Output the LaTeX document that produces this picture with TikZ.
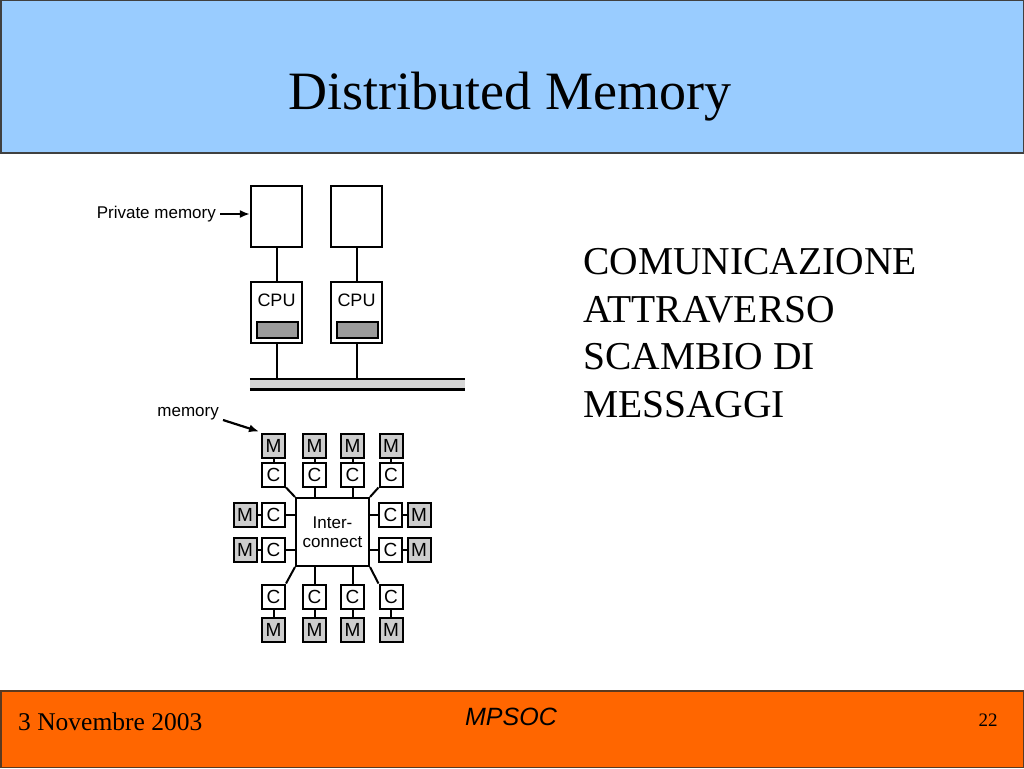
\documentclass[tikz,border=0pt]{standalone}
\usepackage{fontspec}
\setmainfont{Liberation Serif}
\setsansfont{Liberation Sans}
\usetikzlibrary{arrows.meta}
\definecolor{titleblue}{HTML}{99CCFF}
\definecolor{footorange}{HTML}{FF6600}
\definecolor{footborder}{HTML}{5A3A20}
\definecolor{boxgray}{HTML}{CDCDCD}
\definecolor{reggray}{HTML}{9A9A9A}
\definecolor{busgray}{HTML}{D6D6D6}
\begin{document}
\begin{tikzpicture}[x=1pt,y=-1pt,
  bigbox/.style={draw, line width=2.2pt, rectangle, inner sep=0pt, minimum width=51pt, minimum height=61pt},
  regbox/.style={draw, line width=1.8pt, rectangle, inner sep=0pt, fill=reggray, minimum width=41pt, minimum height=16pt},
  cbox/.style={draw, line width=2pt, rectangle, inner sep=0pt, minimum width=23pt, minimum height=24pt, fill=white, font=\sffamily\fontsize{19}{19}\selectfont},
  mbox/.style={cbox, fill=boxgray},
  link/.style={line width=2pt},
  arr/.style={line width=2.2pt, -{Latex[length=10pt,width=8pt]}},
  lbl/.style={font=\sffamily\fontsize{17}{17}\selectfont, inner sep=0pt}
]
\useasboundingbox (0,0) rectangle (1024,768);
% title bar
\fill[titleblue] (0,0) rectangle (1024,153);
\draw[line width=1.5pt, black!75] (0.75,0.75) rectangle (1023.25,153);
\node[anchor=base, font=\fontsize{54}{54}\selectfont] (title) at (510,109) {Distributed Memory};
% footer
\fill[footorange] (0,691) rectangle (1024,768);
\draw[line width=1.5pt, footborder] (0.75,691) rectangle (1023.25,767.25);
\node[anchor=base west, inner sep=0pt, font=\fontsize{25.5}{25.5}\selectfont] (date) at (18,730) {3 Novembre 2003};
\node[anchor=base, inner sep=0pt, font=\sffamily\itshape\fontsize{25}{25}\selectfont] (mpsoc) at (511,725) {MPSOC};
\node[anchor=base, inner sep=0pt, font=\fontsize{19}{19}\selectfont] (page) at (988,726) {22};
% right text
\node[anchor=north west, inner sep=0pt, align=left, font=\fontsize{39.5}{47.5}\selectfont] (msg) at (583,248.5)
  {COMUNICAZIONE\\ATTRAVERSO\\SCAMBIO DI\\MESSAGGI};
% ---- top diagram: private memories ----
\node[bigbox] (mem1) at (276.5,216.5) {};
\node[bigbox] (mem2) at (356.5,216.5) {};
\node[bigbox] (cpu1) at (276.5,312.5) {};
\node[bigbox] (cpu2) at (356.5,312.5) {};
\node[lbl, font=\sffamily\fontsize{18}{18}\selectfont] (cpu1t) at (276.5,300) {CPU};
\node[lbl, font=\sffamily\fontsize{18}{18}\selectfont] (cpu2t) at (356.5,300) {CPU};
\node[regbox] (reg1) at (277.5,330) {};
\node[regbox] (reg2) at (357.5,330) {};
\node[rectangle, fill=busgray, inner sep=0pt, minimum width=215pt, minimum height=10pt] (bus) at (357.5,384) {};
\draw[line width=2.6pt] (bus.north west) -- (bus.north east);
\draw[line width=2.6pt] (bus.south west) -- (bus.south east);
\draw[link] (mem1) -- (cpu1);
\draw[link] (mem2) -- (cpu2);
\draw[link] (cpu1) -- (cpu1 |- bus.north);
\draw[link] (cpu2) -- (cpu2 |- bus.north);
\node[lbl, anchor=east] (pm) at (216,214) {Private memory};
\draw[arr] ([xshift=4pt]pm.east) -- (pm.east -| mem1.west);
% ---- bottom diagram: interconnect ----
\node[draw, line width=2pt, rectangle, inner sep=0pt, minimum width=73pt, minimum height=68pt,
      align=center, font=\sffamily\fontsize{17}{19}\selectfont] (ic) at (332.5,532) {Inter-\\connect};
% top row
\node[mbox] (tm1) at (273.5,445.5) {M};
\node[mbox] (tm2) at (314.5,445.5) {M};
\node[mbox] (tm3) at (352.5,445.5) {M};
\node[mbox] (tm4) at (391,445.5) {M};
\node[cbox] (tc1) at (273.5,474.5) {C};
\node[cbox] (tc2) at (314.5,474.5) {C};
\node[cbox] (tc3) at (352.5,474.5) {C};
\node[cbox] (tc4) at (391,474.5) {C};
% bottom row
\node[cbox] (bc1) at (273.5,596.5) {C};
\node[cbox] (bc2) at (314.5,596.5) {C};
\node[cbox] (bc3) at (352.5,596.5) {C};
\node[cbox] (bc4) at (391,596.5) {C};
\node[mbox] (bm1) at (273.5,630) {M};
\node[mbox] (bm2) at (314.5,630) {M};
\node[mbox] (bm3) at (352.5,630) {M};
\node[mbox] (bm4) at (391,630) {M};
% left side
\node[mbox] (lm1) at (245,515) {M};
\node[cbox] (lc1) at (273.5,515) {C};
\node[mbox] (lm2) at (245,549.5) {M};
\node[cbox] (lc2) at (273.5,549.5) {C};
% right side
\node[cbox] (rc1) at (390.5,515) {C};
\node[mbox] (rm1) at (419,515) {M};
\node[cbox] (rc2) at (390.5,549.5) {C};
\node[mbox] (rm2) at (419,549.5) {M};
% links
\foreach \i in {1,2,3,4} {
  \draw[link] (tm\i) -- (tc\i);
  \draw[link] (bc\i) -- (bm\i);
}
\draw[link] (tc1.south east) -- (ic.north west);
\draw[link] (tc2) -- (tc2 |- ic.north);
\draw[link] (tc3) -- (tc3 |- ic.north);
\draw[link] (tc4.south west) -- (ic.north east);
\draw[link] (bc1.north east) -- (ic.south west);
\draw[link] (bc2) -- (bc2 |- ic.south);
\draw[link] (bc3) -- (bc3 |- ic.south);
\draw[link] (bc4.north west) -- (ic.south east);
\draw[link] (lm1) -- (lc1);
\draw[link] (lm2) -- (lc2);
\draw[link] (lc1) -- (lc1 -| ic.west);
\draw[link] (lc2) -- (lc2 -| ic.west);
\draw[link] (rc1) -- (rm1);
\draw[link] (rc2) -- (rm2);
\draw[link] (rc1) -- (rc1 -| ic.east);
\draw[link] (rc2) -- (rc2 -| ic.east);
\node[lbl, anchor=east] (memlbl) at (219,414) {memory};
\draw[arr] ([shift={(4,6)}]memlbl.east) -- ([shift={(-2,-1)}]tm1.north west);
\end{tikzpicture}
\end{document}
